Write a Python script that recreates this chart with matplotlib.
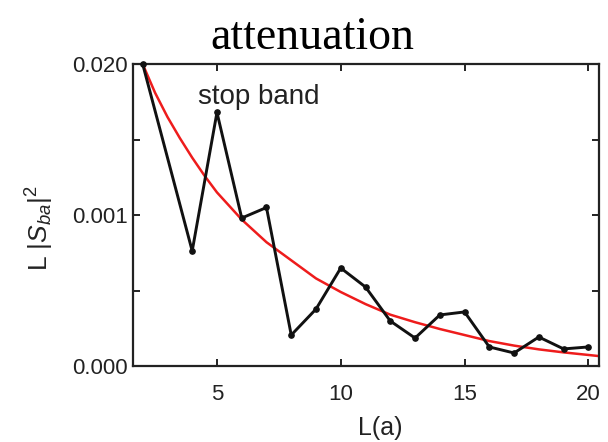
import matplotlib
matplotlib.use('Agg')
import matplotlib.pyplot as plt
from matplotlib.ticker import FixedLocator, FixedFormatter

# measured transmission (scaled by length), per lattice length L
L_meas = [2, 4, 5, 6, 7, 8, 9, 10, 11, 12, 13, 14, 15, 16, 17, 18, 19, 20]
S_meas = [0.00200, 0.000762, 0.00168, 0.000980, 0.00105, 0.000205, 0.000377,
          0.000649, 0.000523, 0.000298, 0.000185, 0.000338, 0.000358,
          0.000126, 0.000086, 0.000192, 0.000113, 0.000126]

# decay fit through the data
L_fit = [2, 2.5, 3, 3.5, 4, 4.5, 5, 5.5, 6, 7, 8, 9, 10, 11, 12, 13, 14, 15,
         16, 17, 18, 19, 20, 20.4]
S_fit = [0.00200, 0.00181, 0.00165, 0.00151, 0.00138, 0.00126, 0.00115,
         0.00106, 0.00097, 0.00082, 0.00070, 0.00058, 0.00049, 0.00041,
         0.00034, 0.00029, 0.000245, 0.000205, 0.000165, 0.000135,
         0.000110, 0.000090, 0.000073, 0.000066]

y_ticks = [0.0, 0.001, 0.002]
y_tick_labels = ['0.000', '0.001', '0.020']
y_minor = [0.0005, 0.0015]
x_ticks = [5, 10, 15, 20]

plt.rcParams['font.family'] = ['Liberation Sans', 'DejaVu Sans']
plt.rcParams['mathtext.fontset'] = 'custom'
plt.rcParams['mathtext.rm'] = 'Liberation Sans'
plt.rcParams['mathtext.it'] = 'Liberation Sans:italic'

fig = plt.figure(figsize=(6.08, 4.42), dpi=100)
ax = fig.add_axes([0.2188, 0.172, 0.7664, 0.683])

ax.plot(L_fit, S_fit, color='#ee1c1c', lw=1.8, zorder=2)
ax.plot(L_meas, S_meas, color='#111111', lw=2.1, marker='o', ms=3.8,
        zorder=3, clip_on=False)

ax.set_xlim(1.61, 20.43)
ax.set_ylim(0, 0.002)

ax.xaxis.set_major_locator(FixedLocator(x_ticks))
ax.yaxis.set_major_locator(FixedLocator(y_ticks))
ax.yaxis.set_major_formatter(FixedFormatter(y_tick_labels))
ax.yaxis.set_minor_locator(FixedLocator(y_minor))

ax.tick_params(which='both', direction='in', top=True, right=True,
               width=1.4, colors='#222222', labelsize=16)
ax.tick_params(which='major', length=5)
ax.tick_params(which='minor', length=5)
ax.tick_params(axis='x', pad=13)
ax.tick_params(axis='y', pad=4)
for lbl in ax.get_xticklabels() + ax.get_yticklabels():
    lbl.set_color('#222222')

for sp in ax.spines.values():
    sp.set_linewidth(1.6)
    sp.set_color('#222222')

ax.set_xlabel('L(a)', fontsize=18, color='#222222')
ax.xaxis.set_label_coords(0.53, -0.205)
ax.xaxis.label.set_va('center')
ax.set_ylabel(r'L $|S_{ba}|^2$', fontsize=19, color='#222222')
ax.yaxis.set_label_coords(-0.2, 0.457)
ax.yaxis.label.set_va('center')

ax.text(0.139, 0.868, 'stop band', transform=ax.transAxes, fontsize=20,
        va='baseline', ha='left', color='#222222')

fig.text(0.513, 0.889, 'attenuation', fontsize=33, ha='center',
         va='baseline', family=['Liberation Serif', 'DejaVu Serif'])

fig.savefig('out.png', dpi=100)
